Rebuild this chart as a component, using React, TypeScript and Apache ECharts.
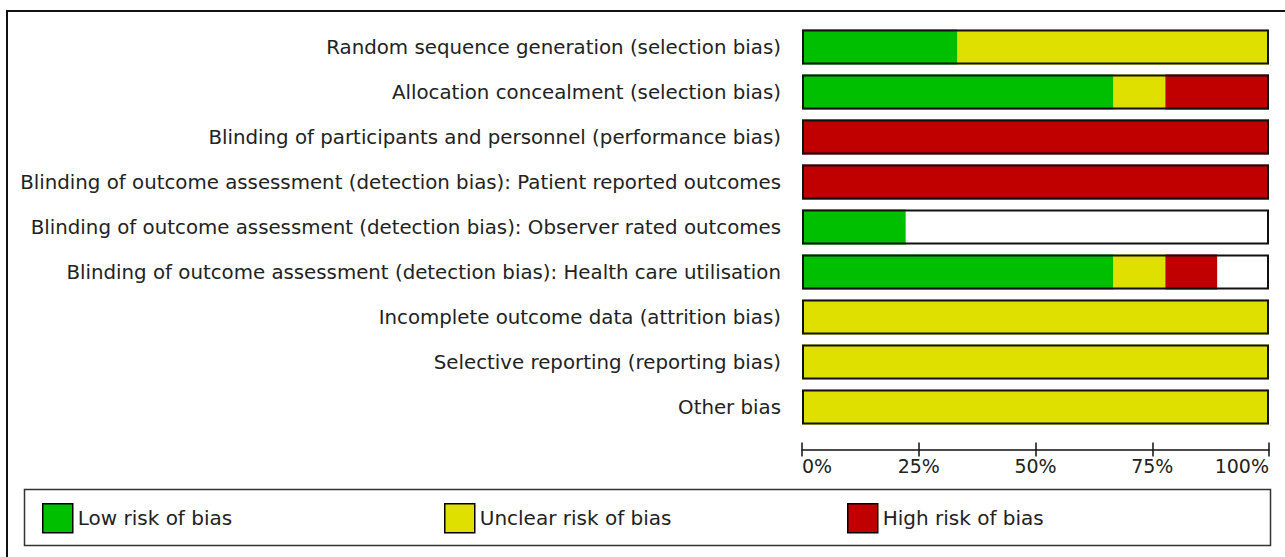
import React, { useEffect, useRef } from "react";
import * as echarts from "echarts";

const categories = [
  "Random sequence generation (selection bias)",
  "Allocation concealment (selection bias)",
  "Blinding of participants and personnel (performance bias)",
  "Blinding of outcome assessment (detection bias): Patient reported outcomes",
  "Blinding of outcome assessment (detection bias): Observer rated outcomes",
  "Blinding of outcome assessment (detection bias): Health care utilisation",
  "Incomplete outcome data (attrition bias)",
  "Selective reporting (reporting bias)",
  "Other bias",
];

const lowRisk = [33.3, 66.7, 0, 0, 22.2, 66.7, 0, 0, 0];
const unclearRisk = [66.7, 11.1, 0, 0, 0, 11.1, 100, 100, 100];
const highRisk = [0, 22.2, 100, 100, 0, 11.1, 0, 0, 0];
const fullScale = [100, 100, 100, 100, 100, 100, 100, 100, 100];

const legendNames = ["Low risk of bias", "Unclear risk of bias", "High risk of bias"];
const colors = ["#00bf00", "#e0e000", "#c00000"];

const FONT = "DejaVu Sans";
const TEXT = "#222";

export default function App() {
  const ref = useRef<HTMLDivElement>(null);
  useEffect(() => {
    if (!ref.current) return;
    const chart = echarts.init(ref.current, null, { renderer: "svg" });
    const riskData = [lowRisk, unclearRisk, highRisk];
    const legendLefts = [42, 444, 847];
    chart.setOption({
      animation: false,
      textStyle: { fontFamily: FONT },
      grid: { left: 802, right: 16, top: 24.5, bottom: 127.5, containLabel: false },
      legend: legendNames.map((n, i) => ({
        data: [n],
        left: legendLefts[i],
        top: 503,
        padding: 0,
        itemWidth: 30,
        itemHeight: 29,
        icon: "rect",
        itemStyle: { borderColor: "#000", borderWidth: 1.5 },
        textStyle: { fontSize: 20, color: TEXT, fontFamily: FONT },
        selectedMode: false,
      })),
      xAxis: [
        {
          type: "value",
          min: 0,
          max: 100,
          interval: 25,
          position: "bottom",
          offset: 20,
          axisLine: { show: true, lineStyle: { color: "#111", width: 1.5 } },
          axisTick: { show: true, length: 7, lineStyle: { color: "#111", width: 1.5 } },
          splitLine: { show: false },
          axisLabel: {
            formatter: "{value}%",
            fontSize: 19,
            color: TEXT,
            fontFamily: FONT,
            margin: 7,
            alignMinLabel: "left",
            alignMaxLabel: "right",
          },
        },
        {
          type: "value",
          min: 0,
          max: 100,
          interval: 25,
          position: "bottom",
          offset: 20,
          axisLine: { show: false },
          axisTick: { show: true, inside: true, length: 7, lineStyle: { color: "#111", width: 1.5 } },
          splitLine: { show: false },
          axisLabel: { show: false },
        },
      ],
      yAxis: {
        type: "category",
        data: categories,
        inverse: true,
        axisLine: { show: false },
        axisTick: { show: false },
        axisLabel: {
          fontSize: 19.8,
          color: TEXT,
          fontFamily: FONT,
          margin: 21,
          padding: [6, 0, 0, 0],
        },
      },
      series: [
        ...legendNames.map((n, i) => ({
          name: n,
          type: "bar",
          stack: "risk",
          barWidth: 35,
          barGap: "-100%",
          data: riskData[i],
          itemStyle: { color: colors[i] },
          emphasis: { disabled: true },
        })),
        {
          name: "outline",
          type: "bar",
          barWidth: 35,
          barGap: "-100%",
          data: fullScale,
          z: 5,
          itemStyle: { color: "rgba(0,0,0,0)", borderColor: "#111", borderWidth: 2 },
          emphasis: { disabled: true },
        },
      ],
      graphic: [
        {
          type: "rect",
          shape: { x: 7, y: 11, width: 1300, height: 600 },
          style: { fill: "none", stroke: "#111", lineWidth: 2 },
          silent: true,
        },
        {
          type: "rect",
          shape: { x: 24.5, y: 489.5, width: 1246, height: 56 },
          style: { fill: "none", stroke: "#333", lineWidth: 1.5 },
          silent: true,
        },
      ],
    });
    return () => chart.dispose();
  }, []);
  return (
    <div
      ref={ref}
      style={{ position: "fixed", left: 0, top: 0, width: 1285, height: 557, background: "#fff" }}
    />
  );
}
